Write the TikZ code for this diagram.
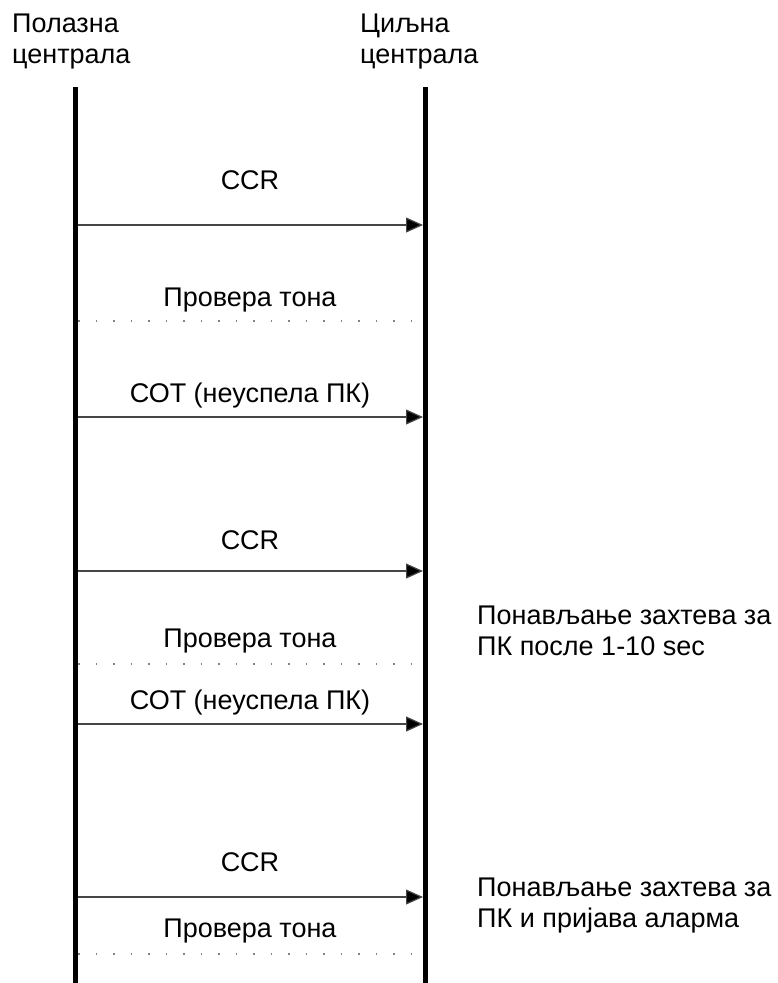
\documentclass[tikz,border=0pt]{standalone}
\usepackage{fontspec}
\setmainfont{Liberation Sans}
\usetikzlibrary{arrows.meta}

\tikzset{
  lbl/.style={font=\fontsize{27}{31}\selectfont, inner sep=0pt, anchor=base},
  hdr/.style={font=\fontsize{27}{31}\selectfont, inner sep=0pt, anchor=base west, align=left},
  lifeline/.style={line width=5pt, black},
  msg/.style={line width=1.2pt, draw={rgb,255:red,70;green,70;blue,70}, -{Triangle[length=17pt,width=15pt,fill=black]}},
  tonecheck/.style={line width=1.5pt, draw={rgb,255:red,130;green,130;blue,130}, dash pattern=on 1.5pt off 16pt},
}

\begin{document}
\begin{tikzpicture}[x=1pt, y=-1pt]
  \useasboundingbox (0,0) rectangle (777,983);

  % exchange headings (anchored at the baseline of the last line)
  \node[hdr] (src) at (12,63) {Полазна\\централа};
  \node[hdr] (dst) at (360,63) {Циљна\\централа};

  % lifelines
  \coordinate (srcTop) at (75.5,87);
  \coordinate (srcBot) at (75.5,983);
  \coordinate (dstTop) at (425.5,87);
  \coordinate (dstBot) at (425.5,983);
  \draw[lifeline] (srcTop) -- (srcBot);
  \draw[lifeline] (dstTop) -- (dstBot);

  % message end points on the two lifelines
  \foreach \n/\y in {a/225, b/321, c/417, d/571, e/664, f/724, g/897, h/954}{
    \coordinate (s\n) at (78,\y);
    \coordinate (t\n) at (423,\y);
  }

  % first attempt
  \draw[msg] (sa) -- (ta);
  \node[lbl] (ccrA) at (250,189) {CCR};
  \draw[tonecheck] (sb) -- (tb);
  \node[lbl] (tonA) at (250,306) {Провера тона};
  \draw[msg] (sc) -- (tc);
  \node[lbl] (cotA) at (250,402) {СОТ (неуспела ПК)};

  % repeated request
  \draw[msg] (sd) -- (td);
  \node[lbl] (ccrB) at (250,549) {CCR};
  \draw[tonecheck] (se) -- (te);
  \node[lbl] (tonB) at (250,647) {Провера тона};
  \draw[msg] (sf) -- (tf);
  \node[lbl] (cotB) at (250,709) {СОТ (неуспела ПК)};

  % repeated request with alarm
  \draw[msg] (sg) -- (tg);
  \node[lbl] (ccrC) at (250,871) {CCR};
  \draw[tonecheck] (sh) -- (th);
  \node[lbl] (tonC) at (250,937) {Провера тона};

  % side notes (anchored at the baseline of the last line)
  \node[hdr] (noteA) at (477,655) {Понављање захтева за\\ПК после 1-10 sec};
  \node[hdr] (noteB) at (477,927) {Понављање захтева за\\ПК и пријава аларма};
\end{tikzpicture}
\end{document}
